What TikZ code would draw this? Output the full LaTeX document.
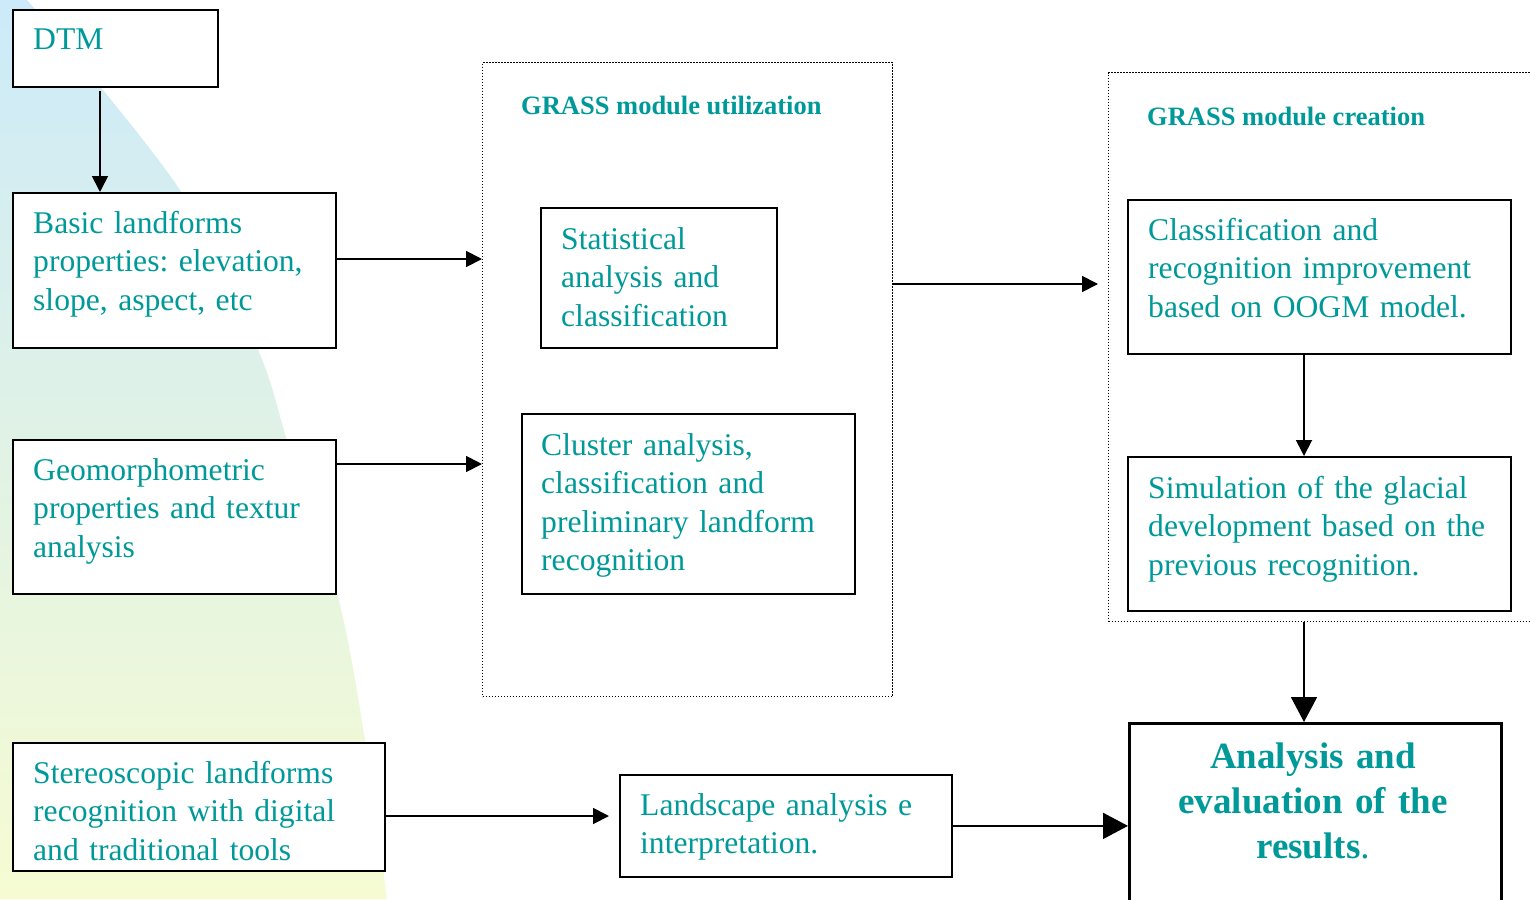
\documentclass[tikz,border=0pt]{standalone}
\usepackage{fontspec}
\setmainfont{Liberation Serif}
\usetikzlibrary{arrows.meta,calc}
\frenchspacing

\definecolor{inktext}{RGB}{0,153,153}
\definecolor{washtop}{RGB}{204,234,249}
\definecolor{washmid}{RGB}{224,242,234}
\definecolor{washbot}{RGB}{246,251,210}

\tikzset{
  box/.style={draw=black, line width=1.8pt, fill=white, inner sep=0pt,
              anchor=north west},
  bigbox/.style={box, line width=3.4pt},
  group/.style={draw=black, line width=1.2pt, dash pattern=on 1.2pt off 1.8pt,
                inner sep=0pt, anchor=north west},
  txt/.style={text=inktext, font=\fontsize{31.6}{38.5}\selectfont\frenchspacing,
              align=left, inner sep=0pt, anchor=base west},
  grouptitle/.style={text=inktext, font=\fontsize{26.5}{32}\selectfont\bfseries,
                     inner sep=0pt, anchor=base west},
  resulttxt/.style={text=inktext, font=\fontsize{37}{45}\selectfont\bfseries,
                    align=center, inner sep=0pt, anchor=base},
  conn/.style={draw=black, line width=1.8pt},
  small/.style={conn, -{Triangle[length=16pt,width=16pt]}},
  large/.style={conn, -{Triangle[length=25pt,width=26pt]}},
}

\begin{document}
\begin{tikzpicture}[x=1pt, y=-1pt]
\useasboundingbox (0,0) rectangle (1530,899);
\clip (0,0) rectangle (1530,899);

% soft colour wash along the left edge
\shade[top color=washtop, middle color=washmid, bottom color=washbot]
  (0,0) -- plot[smooth, tension=0.6] coordinates {(27,0) (180,190) (257,347)
                 (290,450) (337,593) (365,740) (387,899)}
  -- (0,899) -- cycle;

% dotted group frames
\node[group, minimum width=410pt, minimum height=634pt] (grassu) at (482,62) {};
\node[group, minimum width=440pt, minimum height=549pt] (grassc) at (1108,72) {};
\node[grouptitle] (grassut) at (521,114) {GRASS module utilization};
\node[grouptitle] (grassct) at (1147,125) {GRASS module creation};

% left column
\node[box, minimum width=205pt, minimum height=77pt] (dtm) at (12,9) {};
\node[txt, text width=170pt] (dtmt) at (33,50) {DTM};

\node[box, minimum width=323pt, minimum height=155pt] (basic) at (12,192) {};
\node[txt, text width=300pt] (basict) at (33,233)
  {Basic landforms\\properties: elevation,\\slope, aspect, etc};

\node[box, minimum width=323pt, minimum height=154pt] (geo) at (12,439) {};
\node[txt, text width=300pt] (geot) at (33,480)
  {Geomorphometric\\properties and textur\\analysis};

\node[box, minimum width=372pt, minimum height=128pt] (stereo) at (12,742) {};
\node[txt, text width=350pt] (stereot) at (33,783)
  {Stereoscopic landforms\\recognition with digital\\and traditional tools};

% module utilization
\node[box, minimum width=236pt, minimum height=140pt] (stat) at (540,207) {};
\node[txt, text width=210pt] (statt) at (561,249)
  {Statistical\\analysis and\\classification};

\node[box, minimum width=333pt, minimum height=180pt] (cluster) at (521,413) {};
\node[txt, text width=310pt] (clustert) at (541,455)
  {Cluster analysis,\\classification and\\preliminary landform\\recognition};

% module creation
\node[box, minimum width=383pt, minimum height=154pt] (classif) at (1127,199) {};
\node[txt, text width=360pt] (classift) at (1148,240)
  {Classification and\\recognition improvement\\based on OOGM model.};

\node[box, minimum width=383pt, minimum height=154pt] (sim) at (1127,456) {};
\node[txt, text width=360pt] (simt) at (1148,498)
  {Simulation of the glacial\\development based on the\\previous recognition.};

% bottom row
\node[box, minimum width=332pt, minimum height=102pt] (land) at (619,774) {};
\node[txt, text width=310pt] (landt) at (640,815)
  {Landscape analysis e\\interpretation.};

\node[bigbox, minimum width=372pt, minimum height=220pt] (result) at (1128,722) {};
\node[resulttxt, text width=360pt] (resultt) at (1313,768)
  {Analysis and\\evaluation of the\\results{\mdseries .}};

% connector rails
\coordinate (dtmx) at (100,0);
\coordinate (colx) at (1304,0);
\coordinate (railbasic) at (0,259);
\coordinate (railgeo) at (0,464);
\coordinate (railmod) at (0,284);
\coordinate (railstereo) at (0,816);

\draw[small] (dtmx |- dtm.south) ++(0,3) -- (dtmx |- basic.north);
\draw[small] (railbasic -| basic.east) -- (railbasic -| grassu.west);
\draw[small] (railgeo -| geo.east) -- (railgeo -| grassu.west);
\draw[small, shorten >=10pt] (railmod -| grassu.east) -- (railmod -| grassc.west);
\draw[small] (colx |- classif.south) -- (colx |- sim.north);
\draw[large] (colx |- grassc.south) -- (colx |- result.north);
\draw[small, shorten >=10pt] (railstereo -| stereo.east) -- (railstereo -| land.west);
\draw[large] (land.east) -- (land.east -| result.west);
\end{tikzpicture}
\end{document}
